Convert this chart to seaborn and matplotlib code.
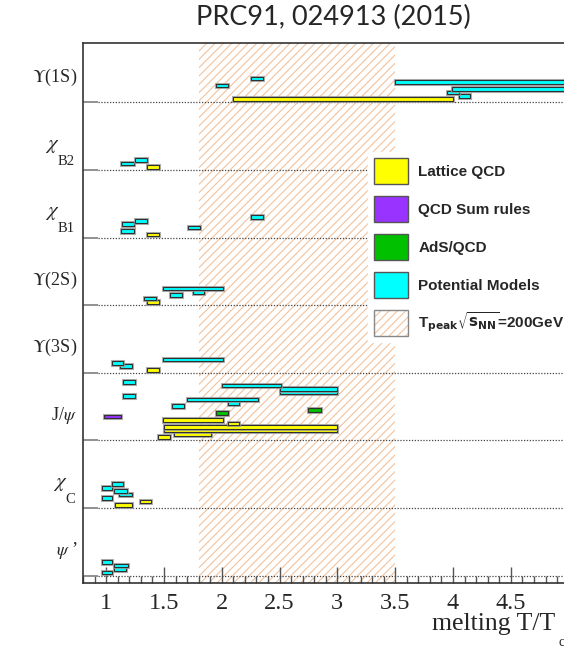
import matplotlib
matplotlib.use("Agg")
import matplotlib.pyplot as plt
import matplotlib.patheffects as pe
import matplotlib.transforms as mtransforms
from matplotlib.patches import Patch
from matplotlib.ticker import MultipleLocator, FuncFormatter
import numpy as np
import pandas as pd
import seaborn as sns

sns.set_style("white")
plt.rcParams["mathtext.fontset"] = "stix"
plt.rcParams["hatch.linewidth"] = 0.8

# Quarkonium states, bottom row to top row
states = ["psi2S", "chic", "Jpsi", "Y3S", "Y2S", "chiB1", "chiB2", "Y1S"]
# (main symbol, subscript) for each row label
state_labels = [(r"$\psi$ ’", ""), (r"$\chi$", "C"), (r"J/$\psi$", ""), (r"$\Upsilon$(3S)", ""),
                (r"$\Upsilon$(2S)", ""), (r"$\chi$", "B1"), (r"$\chi$", "B2"), (r"$\Upsilon$(1S)", "")]

models = ["Lattice QCD", "QCD Sum rules", "AdS/QCD", "Potential Models"]
model_colors = ["#ffff00", "#9933ff", "#00c000", "#00ffff"]

# Melting temperature ranges (T/Tc), listed per state in stacking order (bottom first)
bar_state = (["Y1S"] * 7 + ["chiB2"] * 3 + ["chiB1"] * 6 + ["Y2S"] * 5 + ["Y3S"] * 4
             + ["Jpsi"] * 17 + ["chic"] * 7 + ["psi2S"] * 4)
bar_model = (
    ["Lattice QCD"] + ["Potential Models"] * 6
    + ["Lattice QCD"] + ["Potential Models"] * 2
    + ["Lattice QCD"] + ["Potential Models"] * 5
    + ["Lattice QCD"] + ["Potential Models"] * 4
    + ["Lattice QCD"] + ["Potential Models"] * 3
    + ["Lattice QCD"] * 6 + ["QCD Sum rules"] + ["AdS/QCD"] * 2 + ["Potential Models"] * 8
    + ["Lattice QCD"] * 2 + ["Potential Models"] * 5
    + ["Potential Models"] * 4
)
t_low = [2.10, 4.05, 3.95, 3.99, 1.95, 3.50, 2.25,
         1.35, 1.13, 1.25,
         1.35, 1.13, 1.71, 1.14, 1.25, 2.25,
         1.35, 1.33, 1.55, 1.75, 1.49,
         1.35, 1.12, 1.05, 1.49,
         1.45, 1.59, 1.50, 1.50, 2.05, 1.49, 0.98, 1.95, 2.75,
         1.57, 2.05, 1.70, 1.15, 2.50, 2.50, 2.00, 1.15,
         1.08, 1.29, 0.96, 1.11, 1.07, 0.96, 1.05,
         0.96, 1.07, 1.07, 0.96]
t_high = [4.00, 4.15, 4.05, 6.00, 2.05, 6.00, 2.36,
          1.46, 1.24, 1.35,
          1.46, 1.24, 1.81, 1.24, 1.35, 2.36,
          1.46, 1.43, 1.66, 1.85, 2.01,
          1.46, 1.22, 1.15, 2.01,
          1.55, 1.91, 3.00, 3.00, 2.15, 2.01, 1.13, 2.05, 2.86,
          1.67, 2.15, 2.31, 1.25, 3.00, 3.00, 2.51, 1.25,
          1.22, 1.39, 1.05, 1.22, 1.18, 1.05, 1.15,
          1.05, 1.17, 1.19, 1.05]

# Temperature range reached at RHIC (sqrt(s_NN) = 200 GeV)
t_peak_range = [1.8, 3.5]
xtick_values = [1, 1.5, 2, 2.5, 3, 3.5, 4, 4.5]

df = pd.DataFrame({"state": bar_state, "model": bar_model, "lo": t_low, "hi": t_high})
df["row"] = df["state"].map({s: i for i, s in enumerate(states)})
df["slot"] = df.groupby("state").cumcount()

W, H = 564, 649
fig = plt.figure(figsize=(W / 100, H / 100), dpi=100)
ax = fig.add_axes([83 / W, 1 - 583 / H, 481 / W, 540 / H])
ax.set_xlim(0.8, 4.96)
ax.set_ylim(-0.108, 7.88)

hatch_color = "#f2c29c"
ax.axvspan(*t_peak_range, facecolor="none", edgecolor=hatch_color, hatch="////",
           linewidth=0, zorder=0)

for i in range(len(states)):
    ax.axhline(i, xmin=15 / 481, xmax=1, color="#444444", lw=0.9,
               ls=(0, (1, 1.3)), zorder=1)

bar_h = 0.054
slot_step = 0.051
shadow = [pe.Stroke(linewidth=2.2, foreground="#9a9a9a", alpha=0.8), pe.Normal()]
for m, c in zip(models, model_colors):
    sub = df[df["model"] == m]
    y = sub["row"] + 0.047 + sub["slot"] * slot_step
    bars = ax.barh(y, sub["hi"] - sub["lo"], left=sub["lo"], height=bar_h,
                   color=c, edgecolor="#303030", linewidth=0.8, zorder=3)
    for b in bars:
        b.set_path_effects(shadow)

# Axes frame and ticks
for side in ["left", "top", "bottom"]:
    ax.spines[side].set_color("#333333")
    ax.spines[side].set_linewidth(1.2)
ax.spines["right"].set_visible(False)

ax.set_xticks(xtick_values)
ax.xaxis.set_major_formatter(FuncFormatter(lambda v, p: f"{v:g}"))
ax.xaxis.set_minor_locator(MultipleLocator(0.1))
ax.tick_params(axis="x", which="both", bottom=True, top=False)
ax.tick_params(axis="x", which="major", direction="in", length=11.3, width=1,
               color="#555555", labelsize=17.5, pad=7)
ax.tick_params(axis="x", which="minor", direction="in", length=4.8, width=1,
               color="#555555")
for t in ax.get_xticklabels():
    t.set_family("Liberation Serif")

ax.set_yticks(range(len(states)))
ax.set_yticklabels([])
ax.tick_params(axis="y", which="major", left=True, right=False, direction="in",
               length=10.8, width=1.3, color="#888888")

# Row labels: main symbol plus a lowered subscript
renderer = fig.canvas.get_renderer()
trans = mtransforms.blended_transform_factory(ax.transAxes, ax.transData)
for i, (main, subs) in enumerate(state_labels):
    if subs:
        st = ax.text(-8 / 481, i + 0.37 - 0.24, subs, transform=trans, ha="right",
                     va="center", fontsize=10.5, family="Liberation Serif")
        bb = st.get_window_extent(renderer)
        x_main = ax.transAxes.inverted().transform((bb.x0 + 2, 0))[0]
        ax.text(x_main, i + 0.37, main, transform=trans, ha="right", va="center",
                fontsize=15, family="Liberation Serif")
    else:
        ax.text(-6 / 481, i + 0.37, main, transform=trans, ha="right", va="center",
                fontsize=13, family="Liberation Serif")

fig.text(555 / W, 1 - 624 / H, "melting T/T", ha="right", va="center",
         fontsize=18.5, family="Liberation Serif")
fig.text(562 / W, 1 - 643 / H, "c", ha="center", va="center",
         fontsize=10, family="Liberation Serif")

fig.text(333 / W, 1 - 17 / H, "PRC91, 024913 (2015)", ha="center", va="center",
         fontsize=19.5, family="Lato")

# Legend
handles = [Patch(facecolor=c, edgecolor="#555555", linewidth=1) for c in model_colors]
handles.append((Patch(facecolor="white", edgecolor=hatch_color, hatch="////", linewidth=0),
                Patch(facecolor="none", edgecolor="#888888", linewidth=1)))
labels = models + [r"T$_{\mathbf{peak}}\sqrt{\mathbf{s}_{\mathbf{NN}}}$=200GeV"]
leg = ax.legend(handles, labels, loc="upper left", bbox_to_anchor=(368 / W, 1 - 152 / H),
                bbox_transform=fig.transFigure, borderaxespad=0, frameon=True,
                fancybox=False, framealpha=1, edgecolor="white", facecolor="white",
                prop={"family": "Liberation Sans", "weight": "bold", "size": 11},
                handlelength=2.2, handleheight=2.24, labelspacing=0.785,
                handletextpad=0.7, borderpad=0.4)
leg.set_zorder(5)
for t in leg.get_texts():
    t.set_math_fontfamily("dejavusans")

fig.savefig("out.png", dpi=100)
